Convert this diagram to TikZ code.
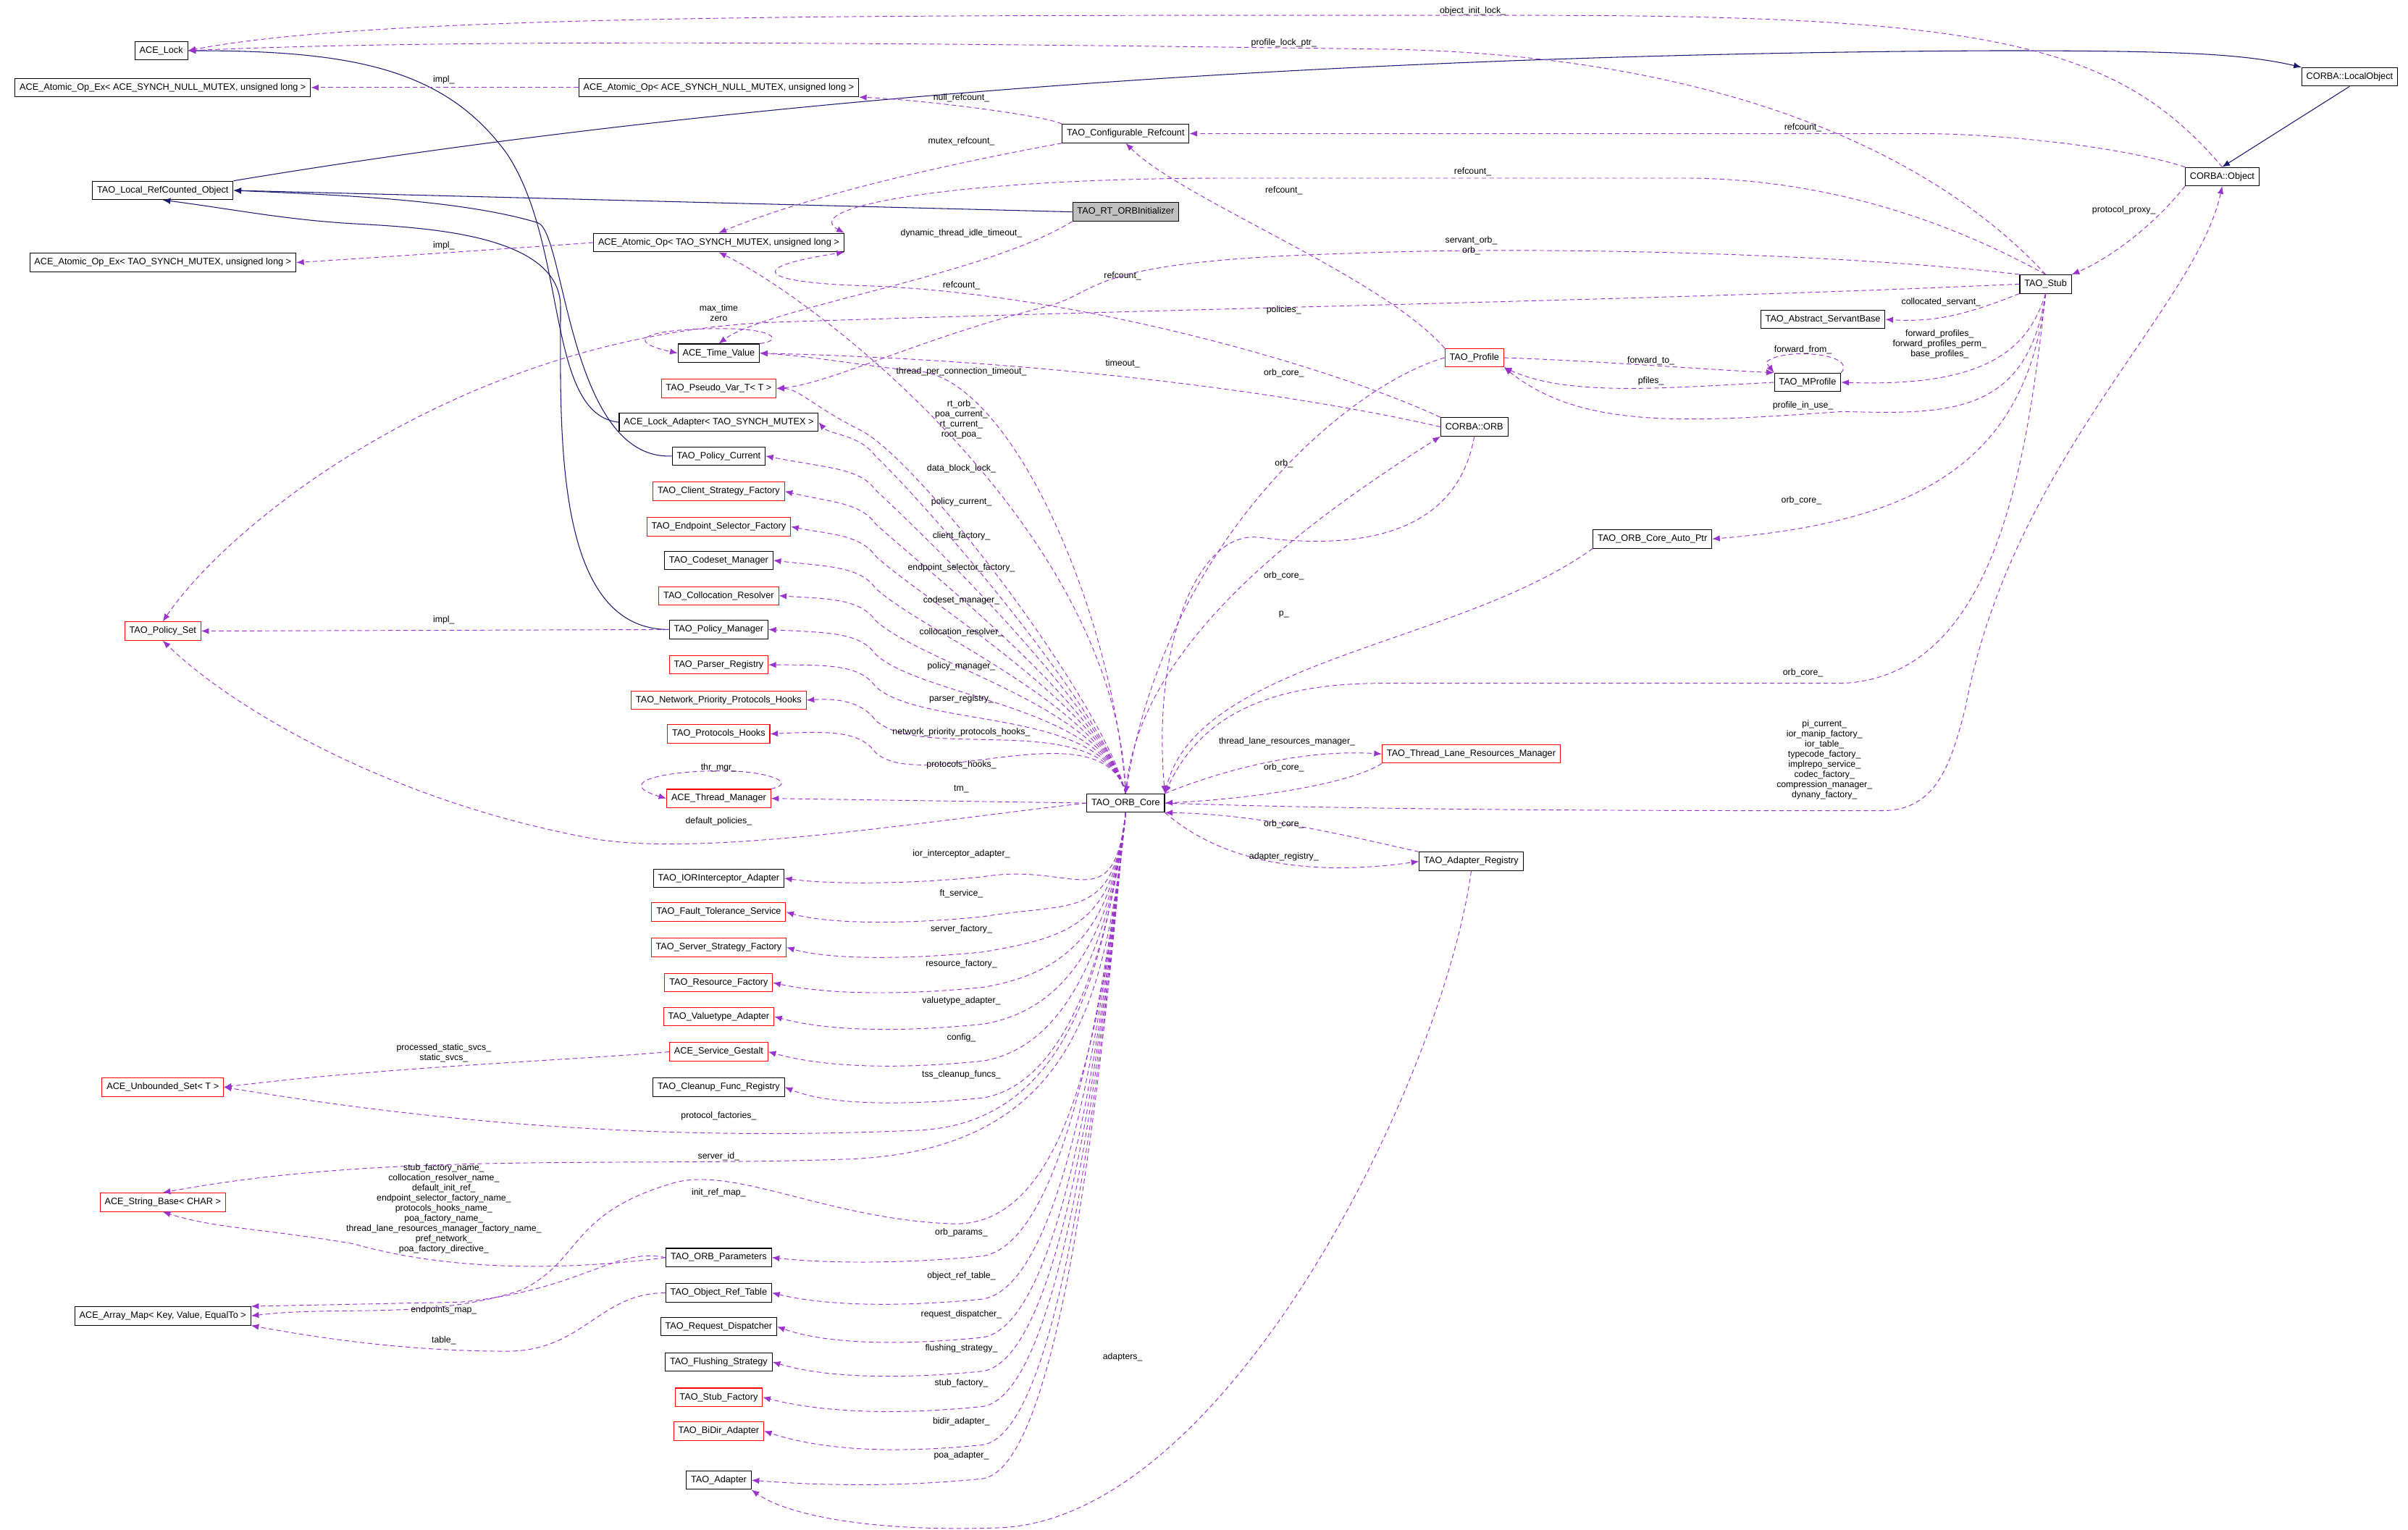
\documentclass[tikz,border=0pt]{standalone}
\usepackage{fontspec}
\setmainfont{Liberation Sans}
\usetikzlibrary{arrows.meta}
\definecolor{depc}{HTML}{9A32CD}
\definecolor{inhc}{HTML}{191970}
\begin{document}
\begin{tikzpicture}[x=1pt,y=-1pt,
 box/.style={draw=black,fill=white,font=\fontsize{6}{7}\selectfont,inner xsep=3pt,inner ysep=0pt,minimum height=12pt,line width=0.5pt},
 rbox/.style={box,draw=red},
 dep/.style={draw=depc,dash pattern=on 3pt off 2pt,line width=0.45pt,-{Latex[length=5pt,width=4pt]}},
 inh/.style={draw=inhc,line width=0.5pt,-{Latex[length=5pt,width=4pt]}},
 lab/.style={font=\fontsize{5.8}{6.6}\selectfont,inner sep=0.5pt,align=center}]
\useasboundingbox (0,0) rectangle (1568,996);
\fill[white] (0,0) rectangle (1568,996);
% nodes
\node[box] (lock) at (105,33) {ACE\_Lock};
\node[box] (atopexN) at (106,57) {ACE\_Atomic\_Op\_Ex< ACE\_SYNCH\_NULL\_MUTEX, unsigned long >};
\node[box] (atopN) at (468,57) {ACE\_Atomic\_Op< ACE\_SYNCH\_NULL\_MUTEX, unsigned long >};
\node[box] (localrc) at (106,124) {TAO\_Local\_RefCounted\_Object};
\node[box] (atopexT) at (106,171) {ACE\_Atomic\_Op\_Ex< TAO\_SYNCH\_MUTEX, unsigned long >};
\node[box] (configref) at (733,87) {TAO\_Configurable\_Refcount};
\node[box,fill=black!25] (rtorb) at (733,138) {TAO\_RT\_ORBInitializer};
\node[box] (atopT) at (468,158) {ACE\_Atomic\_Op< TAO\_SYNCH\_MUTEX, unsigned long >};
\node[box] (localobj) at (1530,50) {CORBA::LocalObject};
\node[box] (object) at (1447,115) {CORBA::Object};
\node[box] (stub) at (1332,185) {TAO\_Stub};
\node[box] (servant) at (1187,208) {TAO\_Abstract\_ServantBase};
\node[box] (mprofile) at (1177,249) {TAO\_MProfile};
\node[rbox] (profile) at (960,233) {TAO\_Profile};
\node[box] (timeval) at (468,230) {ACE\_Time\_Value};
\node[rbox] (pseudo) at (468,253) {TAO\_Pseudo\_Var\_T< T >};
\node[box] (lockadapter) at (468,275) {ACE\_Lock\_Adapter< TAO\_SYNCH\_MUTEX >};
\node[box] (policycurrent) at (468,297) {TAO\_Policy\_Current};
\node[box] (orb) at (960,278) {CORBA::ORB};
\node[rbox] (client) at (468,320) {TAO\_Client\_Strategy\_Factory};
\node[rbox] (endpoint) at (468,343) {TAO\_Endpoint\_Selector\_Factory};
\node[box] (codeset) at (468,365) {TAO\_Codeset\_Manager};
\node[box] (autoptr) at (1076,351) {TAO\_ORB\_Core\_Auto\_Ptr};
\node[rbox] (colloc) at (468,388) {TAO\_Collocation\_Resolver};
\node[box] (policymgr) at (468,410) {TAO\_Policy\_Manager};
\node[rbox] (policyset) at (106,411) {TAO\_Policy\_Set};
\node[rbox] (parser) at (468,433) {TAO\_Parser\_Registry};
\node[rbox] (netprio) at (468,456) {TAO\_Network\_Priority\_Protocols\_Hooks};
\node[rbox] (protohooks) at (468,478) {TAO\_Protocols\_Hooks};
\node[rbox] (thrmgr) at (468,520) {ACE\_Thread\_Manager};
\node[box] (core) at (733,523) {TAO\_ORB\_Core};
\node[rbox] (tlrm) at (958,491) {TAO\_Thread\_Lane\_Resources\_Manager};
\node[box] (adreg) at (958,561) {TAO\_Adapter\_Registry};
\node[box] (ior) at (468,572) {TAO\_IORInterceptor\_Adapter};
\node[rbox] (ft) at (468,594) {TAO\_Fault\_Tolerance\_Service};
\node[rbox] (serverf) at (468,617) {TAO\_Server\_Strategy\_Factory};
\node[rbox] (resource) at (468,640) {TAO\_Resource\_Factory};
\node[rbox] (valuetype) at (468,662) {TAO\_Valuetype\_Adapter};
\node[rbox] (gestalt) at (468,685) {ACE\_Service\_Gestalt};
\node[box] (cleanup) at (468,708) {TAO\_Cleanup\_Func\_Registry};
\node[rbox] (unbounded) at (106,708) {ACE\_Unbounded\_Set< T >};
\node[rbox] (strbase) at (106,783) {ACE\_String\_Base< CHAR >};
\node[box] (orbparams) at (468,819) {TAO\_ORB\_Parameters};
\node[box] (objreftable) at (468,842) {TAO\_Object\_Ref\_Table};
\node[box] (arraymap) at (106,857) {ACE\_Array\_Map< Key, Value, EqualTo >};
\node[box] (reqdisp) at (468,864) {TAO\_Request\_Dispatcher};
\node[box] (flushing) at (468,887) {TAO\_Flushing\_Strategy};
\node[rbox] (stubfactory) at (468,910) {TAO\_Stub\_Factory};
\node[rbox] (bidir) at (468,932) {TAO\_BiDir\_Adapter};
\node[box] (tadapter) at (468,964) {TAO\_Adapter};

% inheritance
\draw[inh] (localrc.north east) .. controls (500,60) and (900,35) .. (1300,33) .. controls (1420,33) and (1460,35) .. (localobj.north west);
\draw[inh] (localobj.south) -- (object.north);
\draw[inh] (rtorb.west) -- (localrc.east);
\draw[inh] (lockadapter.west) .. controls (355,270) and (370,160) .. (330,100) .. controls (290,45) and (230,33) .. (lock.east);
\draw[inh] (policycurrent.west) .. controls (370,300) and (368,150) .. (350,145) .. controls (300,130) and (220,127) .. (localrc.east);
\draw[inh] (policymgr.west) .. controls (360,410) and (365,280) .. (365,200) .. controls (365,148) and (260,148) .. (220,145) .. controls (180,142) and (150,136) .. (localrc.south);

% ORB_Core members (upper left column)
\foreach \n/\t/\ly in {
 lockadapter/data\_block\_lock\_/305,
 policycurrent/policy\_current\_/327,
 client/client\_factory\_/349,
 endpoint/endpoint\_selector\_factory\_/370,
 codeset/codeset\_manager\_/391,
 colloc/collocation\_resolver\_/412,
 policymgr/policy\_manager\_/434,
 parser/parser\_registry\_/455,
 netprio/network\_priority\_protocols\_hooks\_/477,
 protohooks/protocols\_hooks\_/498}{
 \draw[dep] (core.north) .. controls (718,460) and (600,\ly+20) .. (570,\ly-8) .. controls (560,\ly-22) and (540,\ly-22) .. (\n.east);
 \node[lab] at (626,\ly) {\t};
}
\draw[dep] (core.north) .. controls (720,460) and (600,300) .. (560,280) .. controls (530,265) and (520,253) .. (pseudo.east);
\node[lab] at (626,273) {rt\_orb\_\\poa\_current\_\\rt\_current\_\\root\_poa\_};
\draw[dep] (core.north) .. controls (725,400) and (660,250) .. (600,242) .. controls (560,238) and (530,232) .. (timeval.east);
\node[lab] at (626,242) {thread\_per\_connection\_timeout\_};
\draw[dep] (core.north) .. controls (728,350) and (540,200) .. (atopT.south);
\node[lab] at (626,186) {refcount\_};
\draw[dep] (core.west) -- (thrmgr.east);
\node[lab] at (626,514) {tm\_};
\draw[dep] (core.west) .. controls (600,535) and (450,560) .. (380,545) .. controls (250,520) and (150,460) .. (policyset.south);
\node[lab] at (468,535) {default\_policies\_};

% ORB_Core members (lower left column)
\foreach \n/\t/\ly in {
 ior/ior\_interceptor\_adapter\_/556,
 ft/ft\_service\_/582,
 serverf/server\_factory\_/605,
 resource/resource\_factory\_/628,
 valuetype/valuetype\_adapter\_/652,
 gestalt/config\_/676,
 cleanup/tss\_cleanup\_funcs\_/700,
 orbparams/orb\_params\_/803,
 objreftable/object\_ref\_table\_/831,
 reqdisp/request\_dispatcher\_/856,
 flushing/flushing\_strategy\_/878,
 stubfactory/stub\_factory\_/901,
 bidir/bidir\_adapter\_/926,
 tadapter/poa\_adapter\_/948}{
 \draw[dep] (core.south) .. controls (725,600) and (700,\ly+5) .. (640,\ly+15) .. controls (590,\ly+20) and (540,\ly+20) .. (\n.east);
 \node[lab] at (626,\ly) {\t};
}
\draw[dep] (core.south) .. controls (720,620) and (700,730) .. (600,736) .. controls (400,745) and (250,725) .. (unbounded.east);
\node[lab] at (468,727) {protocol\_factories\_};
\draw[dep] (core.south) .. controls (720,650) and (700,750) .. (550,755) .. controls (400,760) and (250,750) .. (strbase.north);
\node[lab] at (468,753) {server\_id\_};
\draw[dep] (core.south) .. controls (720,650) and (700,800) .. (620,797) .. controls (540,794) and (480,760) .. (440,770) .. controls (370,790) and (380,820) .. (340,840) .. controls (280,860) and (220,850) .. (arraymap.east);
\node[lab] at (468,777) {init\_ref\_map\_};

% ORB_Core right side
\draw[dep] (core.north east) .. controls (800,500) and (850,488) .. (tlrm.west);
\node[lab] at (838,483) {thread\_lane\_resources\_manager\_};
\draw[dep] (tlrm.south west) .. controls (880,510) and (820,520) .. (core.east);
\node[lab] at (836,500) {orb\_core\_};
\draw[dep] (core.south east) .. controls (800,565) and (860,570) .. (adreg.west);
\node[lab] at (836,558) {adapter\_registry\_};
\draw[dep] (adreg.north west) .. controls (880,545) and (820,530) .. (core.south east);
\node[lab] at (836,537) {orb\_core\_};
\draw[dep] (core.north) .. controls (740,420) and (850,340) .. (orb.south west);
\node[lab] at (836,302) {orb\_};
\draw[dep] (orb.south) .. controls (950,340) and (900,360) .. (820,350) .. controls (780,345) and (750,420) .. (core.north east);
\node[lab] at (836,375) {orb\_core\_};
\draw[dep] (autoptr.south west) .. controls (950,420) and (780,430) .. (core.north east);
\node[lab] at (836,400) {p\_};
\draw[dep] (profile.west) .. controls (880,250) and (760,350) .. (core.north);
\node[lab] at (836,243) {orb\_core\_};
\draw[dep] (stub.south) .. controls (1320,300) and (1300,440) .. (1200,445) -- (900,445) .. controls (820,445) and (780,470) .. (core.north east);
\node[lab] at (1174,438) {orb\_core\_};
\draw[dep] (core.east) .. controls (900,528) and (1100,528) .. (1225,528) .. controls (1260,528) and (1270,500) .. (1280,460) .. controls (1310,300) and (1430,200) .. (object.south);
\node[lab] at (1188,495) {pi\_current\_\\ior\_manip\_factory\_\\ior\_table\_\\typecode\_factory\_\\implrepo\_service\_\\codec\_factory\_\\compression\_manager\_\\dynany\_factory\_};
\draw[dep] (adreg.south) .. controls (940,700) and (800,990) .. (650,995) .. controls (560,998) and (510,985) .. (tadapter.south east);
\node[lab] at (731,884) {adapters\_};

% left-side other
\draw[dep] (policymgr.west) -- (policyset.east);
\node[lab] at (289,404) {impl\_};
\draw[dep] (atopN.west) -- (atopexN.east);
\node[lab] at (289,52) {impl\_};
\draw[dep] (atopT.west) .. controls (330,162) and (240,168) .. (atopexT.east);
\node[lab] at (289,160) {impl\_};
\draw[dep] (gestalt.west) .. controls (380,690) and (250,695) .. (unbounded.east);
\node[lab] at (289,686) {processed\_static\_svcs\_\\static\_svcs\_};
\draw[dep] (orbparams.west) .. controls (380,826) and (300,830) .. (230,810) .. controls (170,800) and (140,800) .. (strbase.south);
\node[lab] at (289,787) {stub\_factory\_name\_\\collocation\_resolver\_name\_\\default\_init\_ref\_\\endpoint\_selector\_factory\_name\_\\protocols\_hooks\_name\_\\poa\_factory\_name\_\\thread\_lane\_resources\_manager\_factory\_name\_\\pref\_network\_\\poa\_factory\_directive\_};
\draw[dep] (orbparams.west) .. controls (400,812) and (380,840) .. (300,848) -- (arraymap.north east);
\node[lab] at (289,853) {endpoints\_map\_};
\draw[dep] (objreftable.west) .. controls (390,842) and (380,880) .. (330,880) .. controls (260,880) and (200,870) .. (arraymap.south east);
\node[lab] at (289,873) {table\_};

% top area
\draw[dep] (configref.north west) .. controls (680,75) and (600,65) .. (atopN.south east);
\node[lab] at (626,64) {null\_refcount\_};
\draw[dep] (configref.south west) .. controls (600,110) and (520,130) .. (atopT.north);
\node[lab] at (626,92) {mutex\_refcount\_};
\draw[dep] (rtorb.south west) .. controls (640,180) and (500,200) .. (timeval.north);
\node[lab] at (626,152) {dynamic\_thread\_idle\_timeout\_};
\draw[dep] (timeval.north east) .. controls (510,222) and (505,214) .. (470,214) .. controls (420,214) and (405,222) .. (timeval.west);
\node[lab] at (468,204) {max\_time\\zero};
\draw[dep] (object.north) .. controls (1380,30) and (1300,10) .. (1000,10) .. controls (600,10) and (250,8) .. (lock.east);
\node[lab] at (959,7) {object\_init\_lock\_};
\draw[dep] (stub.north) .. controls (1250,90) and (1100,35) .. (900,32) .. controls (600,28) and (300,25) .. (lock.east);
\node[lab] at (836,28) {profile\_lock\_ptr\_};
\draw[dep] (object.north west) .. controls (1380,95) and (1300,87) .. (1250,87) -- (configref.east);
\node[lab] at (1174,83) {refcount\_};
\draw[dep] (stub.north) .. controls (1280,150) and (1200,117) .. (1100,116) -- (800,116) .. controls (620,116) and (520,135) .. (atopT.north east);
\node[lab] at (959,112) {refcount\_};
\draw[dep] (profile.north west) .. controls (900,180) and (770,130) .. (configref.south);
\node[lab] at (836,124) {refcount\_};
\draw[dep] (orb.north west) .. controls (870,240) and (700,190) .. (560,186) .. controls (500,184) and (480,175) .. (atopT.south east);
\node[lab] at (731,180) {refcount\_};
\draw[dep] (orb.west) .. controls (860,260) and (700,235) .. (timeval.east);
\node[lab] at (731,237) {timeout\_};
\draw[dep] (stub.north west) .. controls (1200,165) and (1000,160) .. (880,165) .. controls (700,170) and (720,190) .. (680,200) .. controls (600,220) and (540,250) .. (pseudo.east);
\node[lab] at (958,160) {servant\_orb\_\\orb\_};
\draw[dep] (stub.west) .. controls (1100,195) and (800,200) .. (500,210) .. controls (300,220) and (150,340) .. (policyset.north);
\node[lab] at (836,202) {policies\_};
\draw[dep] (stub.south west) .. controls (1280,205) and (1260,210) .. (servant.east);
\node[lab] at (1264,197) {collocated\_servant\_};
\draw[dep] (stub.south) .. controls (1320,230) and (1290,252) .. (mprofile.east);
\node[lab] at (1263,224) {forward\_profiles\_\\forward\_profiles\_perm\_\\base\_profiles\_};
\draw[dep] (stub.south) .. controls (1320,270) and (1270,270) .. (1200,268) .. controls (1100,275) and (1030,280) .. (profile.south east);
\node[lab] at (1174,264) {profile\_in\_use\_};
\draw[dep] (profile.east) .. controls (1040,235) and (1100,240) .. (mprofile.north west);
\node[lab] at (1075,235) {forward\_to\_};
\draw[dep] (mprofile.west) .. controls (1080,253) and (1020,258) .. (profile.south east);
\node[lab] at (1075,248) {pfiles\_};
\draw[dep] (mprofile.north east) .. controls (1210,230) and (1160,226) .. (1150,236) -- (mprofile.north west);
\node[lab] at (1174,228) {forward\_from\_};
\draw[dep] (object.south west) .. controls (1400,150) and (1370,170) .. (stub.north east);
\node[lab] at (1383,137) {protocol\_proxy\_};
\draw[dep] (stub.south) .. controls (1320,300) and (1250,340) .. (autoptr.east);
\node[lab] at (1173,326) {orb\_core\_};
\draw[dep] (thrmgr.north east) .. controls (520,510) and (500,502) .. (470,502) .. controls (430,502) and (400,510) .. (thrmgr.west);
\node[lab] at (468,500) {thr\_mgr\_};
\end{tikzpicture}
\end{document}
